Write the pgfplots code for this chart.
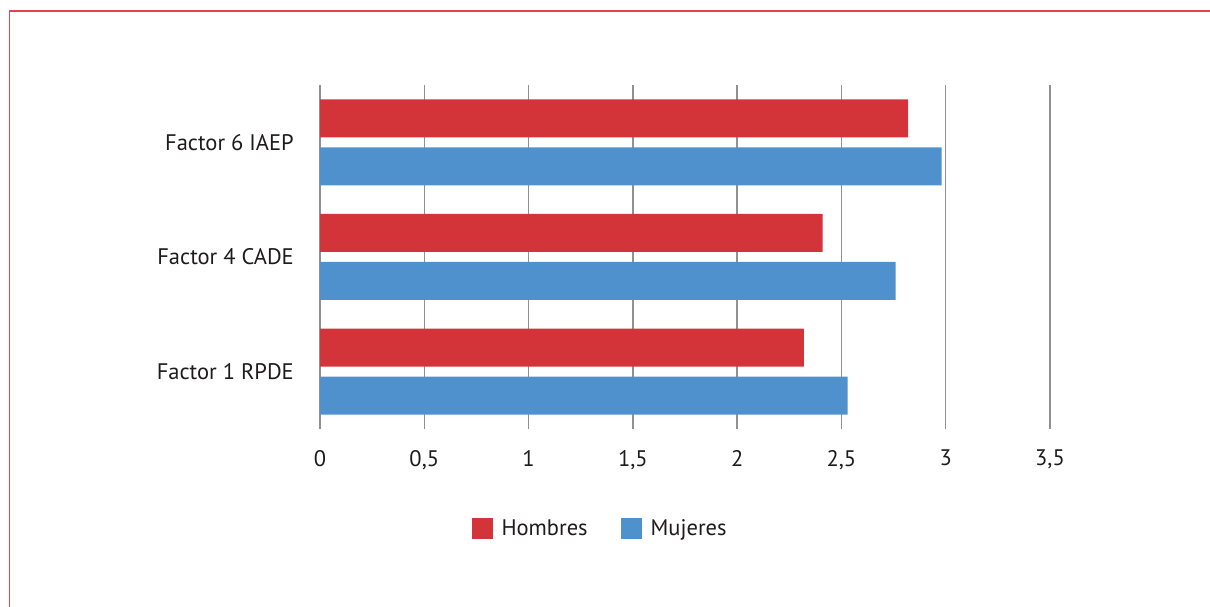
\documentclass[border=0pt]{standalone}
\usepackage{pgfplots}
\pgfplotsset{compat=1.18}
\usepackage{fontspec}
\setmainfont{PT Sans}
\definecolor{hred}{RGB}{210,52,57}
\definecolor{mblue}{RGB}{79,145,205}
\definecolor{gridc}{RGB}{145,145,145}
\definecolor{txt}{RGB}{30,27,28}
\definecolor{framec}{RGB}{222,70,80}
\begin{document}
\begin{tikzpicture}
\path[use as bounding box] (0pt,0pt) rectangle (1210pt,607pt);
\draw[framec, line width=1.3pt] (9.5pt,0pt) -- (9.5pt,596pt) -- (1210pt,596pt);
\begin{axis}[
  at={(320pt,178pt)}, anchor=south west,
  width=730pt, height=344pt, scale only axis,
  xmin=0, xmax=3.5, ymin=-0.5, ymax=2.5,
  xtick={0,0.5,1,1.5,2,2.5,3,3.5},
  ytick={0,1,2},
  yticklabels={Factor 1 RPDE, Factor 4 CADE, Factor 6 IAEP},
  /pgf/number format/fixed,
  /pgf/number format/use comma,
  /pgf/number format/assume math mode=true,
  xticklabel style={inner sep=0pt, anchor=north, yshift=-21pt},
  yticklabel style={inner sep=0pt, anchor=east, xshift=-26pt},
  font=\fontsize{22.5}{27}\selectfont,
  tick label style={font=\fontsize{22.5}{27}\selectfont, text=txt},
  axis line style={draw=none},
  tick style={draw=none},
  major tick length=0pt,
  xmajorgrids=true,
  major grid style={gridc, line width=1.5pt},
  legend columns=2,
  legend style={at={(0.3836,-0.288)}, anchor=center, draw=none, fill=none,
    font=\fontsize{22.5}{27}\selectfont, text=txt,
    /tikz/every even column/.append style={column sep=31pt}},
]
\addplot[xbar, bar width=38pt, bar shift=24pt, fill=hred, draw=none,
  legend image code/.code={\fill[hred] (0pt,-10.5pt) rectangle (21pt,10.5pt); \path (28pt,0pt);}]
  coordinates {(2.32,0) (2.41,1) (2.82,2)};
\addplot[xbar, bar width=38pt, bar shift=-24pt, fill=mblue, draw=none,
  legend image code/.code={\fill[mblue] (0pt,-10.5pt) rectangle (21pt,10.5pt); \path (28pt,0pt);}]
  coordinates {(2.53,0) (2.76,1) (2.98,2)};
\legend{Hombres, Mujeres}
\end{axis}
\end{tikzpicture}
\end{document}
